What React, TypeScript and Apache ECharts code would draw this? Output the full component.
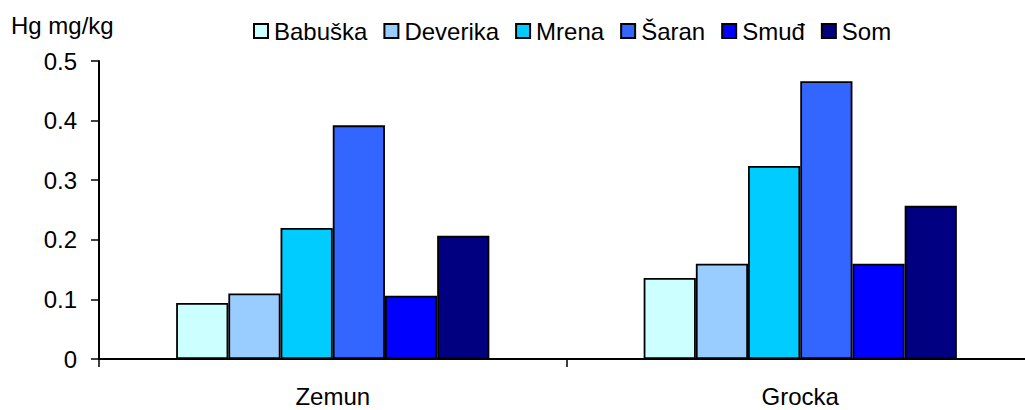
import React, { useEffect, useRef } from "react";
import * as echarts from "echarts";

const categories = ["Zemun", "Grocka"];
const seriesNames = ["Babuška", "Deverika", "Mrena", "Šaran", "Smuđ", "Som"];
const babuska = [0.094, 0.136];
const deverika = [0.110, 0.160];
const mrena = [0.220, 0.324];
const saran = [0.392, 0.466];
const smudj = [0.106, 0.160];
const som = [0.207, 0.257];
const colors = ["#CCFFFF", "#99CCFF", "#00CCFF", "#3366FF", "#0000FF", "#000080"];

const FONT = "'Liberation Sans', Arial, sans-serif";
const FS = 24;

export default function App() {
  const ref = useRef<HTMLDivElement>(null);
  useEffect(() => {
    if (!ref.current) return;
    const chart = echarts.init(ref.current, null, { renderer: "svg" });
    const values = [babuska, deverika, mrena, saran, smudj, som];
    chart.setOption({
      animation: false,
      textStyle: { fontFamily: FONT },
      legend: {
        top: 14,
        left: 248,
        icon: "rect",
        itemWidth: 14,
        itemHeight: 14,
        itemGap: 16,
        textStyle: { fontSize: FS, color: "#000", fontFamily: FONT, padding: [0, 0, 0, 1] },
        data: seriesNames,
      },
      graphic: [
        {
          type: "text",
          left: 11,
          top: 13,
          style: { text: "Hg mg/kg", fontSize: FS, fill: "#000", fontFamily: FONT },
        },
      ],
      grid: { left: 99, right: 11, top: 61, bottom: 51, containLabel: false },
      xAxis: {
        type: "category",
        data: categories,
        axisLine: { lineStyle: { color: "#000", width: 2 } },
        axisTick: { show: true, length: 8, lineStyle: { color: "#000", width: 1.5 } },
        axisLabel: { fontSize: FS, color: "#000", margin: 25, fontFamily: FONT },
      },
      yAxis: {
        type: "value",
        min: 0,
        max: 0.5,
        interval: 0.1,
        splitLine: { show: false },
        axisLine: { show: true, lineStyle: { color: "#000", width: 2 } },
        axisTick: { show: true, length: 8, lineStyle: { color: "#000", width: 1.5 } },
        axisLabel: {
          fontSize: FS,
          color: "#000",
          margin: 22,
          fontFamily: FONT,
          formatter: (v: number) => (v === 0 ? "0" : String(Math.round(v * 10) / 10)),
        },
      },
      series: seriesNames.map((name, i) => ({
        name,
        type: "bar",
        data: values[i],
        barGap: "0%",
        barCategoryGap: "33%",
        itemStyle: { color: colors[i], borderColor: "#000", borderWidth: 1.8 },
      })),
    });
    return () => chart.dispose();
  }, []);
  return (
    <div
      style={{
        position: "fixed",
        left: 0,
        top: 0,
        width: 1025,
        height: 410,
        overflow: "hidden",
        background: "#fff",
      }}
    >
      <div ref={ref} style={{ width: 1045, height: 410 }} />
    </div>
  );
}
